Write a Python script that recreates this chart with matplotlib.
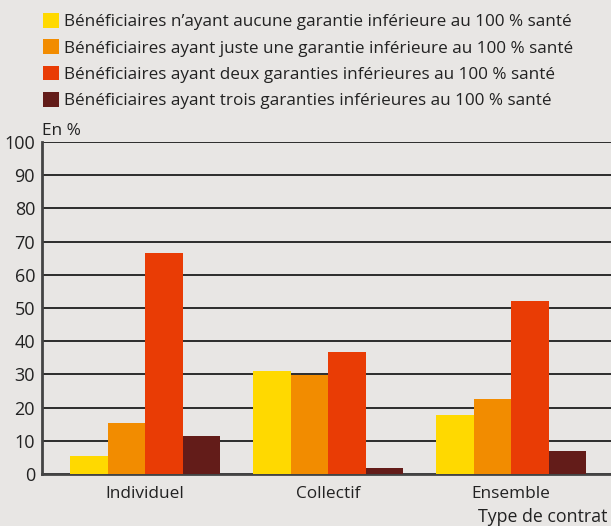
import matplotlib
matplotlib.use("Agg")
import matplotlib.pyplot as plt
import numpy as np

categories = ["Individuel", "Collectif", "Ensemble"]
series_labels = [
    "Bénéficiaires n\u2019ayant aucune garantie inférieure au 100 % santé",
    "Bénéficiaires ayant juste une garantie inférieure au 100 % santé",
    "Bénéficiaires ayant deux garanties inférieures au 100 % santé",
    "Bénéficiaires ayant trois garanties inférieures au 100 % santé",
]
aucune = [5.4, 31.0, 17.8]
une = [15.5, 29.8, 22.6]
deux = [66.6, 36.8, 52.0]
trois = [11.4, 1.8, 6.9]
colors = ["#FFD900", "#F28C00", "#E93C05", "#631C19"]
yticks = [0, 10, 20, 30, 40, 50, 60, 70, 80, 90, 100]

plt.rcParams['font.family'] = ['Open Sans', 'DejaVu Sans']
bg = "#E8E6E4"
W, H = 611, 526
fig = plt.figure(figsize=(W/100, H/100), dpi=100, facecolor=bg)
ax = fig.add_axes([42/W, 1-474/H, (W-42)/W, (474-142)/H], facecolor=bg)

x = np.arange(len(categories))
width = 0.205
handles = []
for i, (vals, c) in enumerate(zip([aucune, une, deux, trois], colors)):
    b = ax.bar(x + (i-1.5)*width, vals, width, color=c, zorder=3, label=series_labels[i])
    handles.append(b)

ax.set_ylim(0, 100)
ax.set_xlim(-0.563, 2.546)
ax.set_yticks(yticks)
ax.yaxis.grid(True, color="#2b2b2b", linewidth=1.4, zorder=0)
ax.set_axisbelow(True)
for s in ["top", "right"]:
    ax.spines[s].set_visible(False)
ax.spines["left"].set_color("#444444")
ax.spines["left"].set_linewidth(2)
ax.spines["bottom"].set_color("#444444")
ax.spines["bottom"].set_linewidth(2)
ax.tick_params(axis="y", length=0, labelsize=13, colors="#222222", pad=5)
ax.tick_params(axis="x", length=0, labelsize=12.4, colors="#222222", pad=8.5)
ax.set_xticks(x)
ax.set_xticklabels(categories)

fig.text(42/W, 1-131/H, "En %", fontsize=12.4, color="#222222", va="center", ha="left")
fig.text(607/W, 1-517/H, "Type de contrat", fontsize=12.8, color="#222222", va="center", ha="right")

fig.legend(handles=handles, labels=series_labels, loc="upper left",
           bbox_to_anchor=(43/W, 1-13/H), frameon=False, fontsize=12.3,
           handlelength=0.94, handleheight=0.94, handletextpad=0.3,
           labelspacing=0.54, borderaxespad=0, borderpad=0, labelcolor="#222222")

fig.savefig("out.png", dpi=100, facecolor=bg)
